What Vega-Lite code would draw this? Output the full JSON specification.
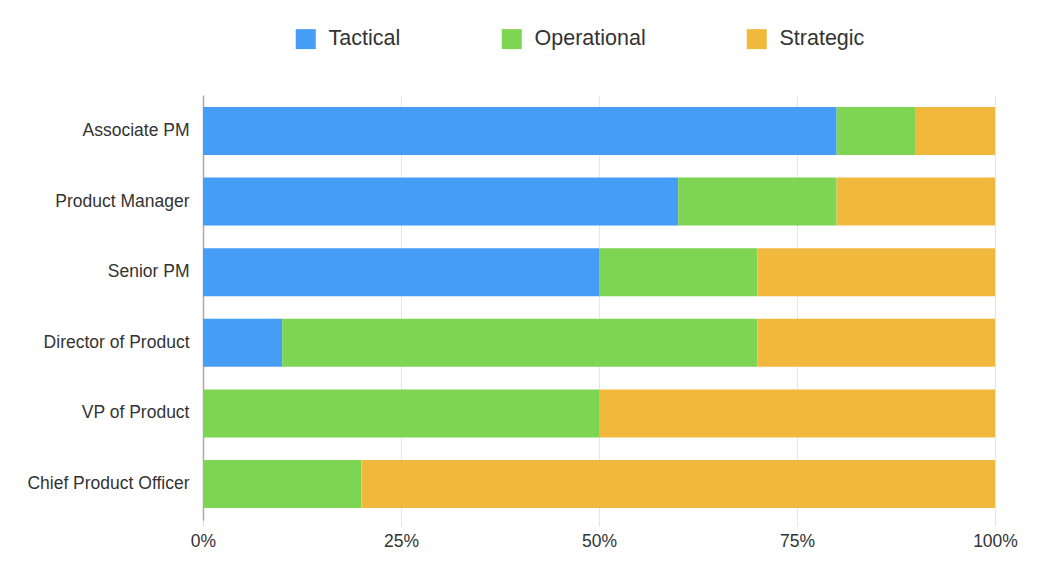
{
  "$schema": "https://vega.github.io/schema/vega-lite/v6.json",
  "width": 792,
  "height": 425,
  "autosize": {"type": "none"},
  "padding": {"left": 203, "top": 95, "right": 55, "bottom": 62},
  "background": "white",
  "config": {
    "font": "Liberation Sans",
    "view": {"stroke": null}
  },
  "data": {
    "values": [
      {"role": "Associate PM", "type": "Tactical", "k": 1, "share": 0.80},
      {"role": "Associate PM", "type": "Operational", "k": 2, "share": 0.10},
      {"role": "Associate PM", "type": "Strategic", "k": 3, "share": 0.10},
      {"role": "Product Manager", "type": "Tactical", "k": 1, "share": 0.60},
      {"role": "Product Manager", "type": "Operational", "k": 2, "share": 0.20},
      {"role": "Product Manager", "type": "Strategic", "k": 3, "share": 0.20},
      {"role": "Senior PM", "type": "Tactical", "k": 1, "share": 0.50},
      {"role": "Senior PM", "type": "Operational", "k": 2, "share": 0.20},
      {"role": "Senior PM", "type": "Strategic", "k": 3, "share": 0.30},
      {"role": "Director of Product", "type": "Tactical", "k": 1, "share": 0.10},
      {"role": "Director of Product", "type": "Operational", "k": 2, "share": 0.60},
      {"role": "Director of Product", "type": "Strategic", "k": 3, "share": 0.30},
      {"role": "VP of Product", "type": "Tactical", "k": 1, "share": 0.0},
      {"role": "VP of Product", "type": "Operational", "k": 2, "share": 0.50},
      {"role": "VP of Product", "type": "Strategic", "k": 3, "share": 0.50},
      {"role": "Chief Product Officer", "type": "Tactical", "k": 1, "share": 0.0},
      {"role": "Chief Product Officer", "type": "Operational", "k": 2, "share": 0.20},
      {"role": "Chief Product Officer", "type": "Strategic", "k": 3, "share": 0.80}
    ]
  },
  "mark": {"type": "bar"},
  "encoding": {
    "y": {
      "field": "role",
      "type": "nominal",
      "sort": ["Associate PM", "Product Manager", "Senior PM", "Director of Product", "VP of Product", "Chief Product Officer"],
      "scale": {"paddingInner": 0.32, "paddingOuter": 0.17},
      "axis": {
        "title": null,
        "ticks": false,
        "domain": true,
        "domainColor": "#aaaaaa",
        "domainWidth": 1.5,
        "labelFontSize": 17.5,
        "labelColor": "#333333",
        "labelPadding": 14
      }
    },
    "x": {
      "field": "share",
      "type": "quantitative",
      "stack": "zero",
      "scale": {"domain": [0, 1], "nice": false},
      "axis": {
        "title": null,
        "format": "~%",
        "values": [0, 0.25, 0.5, 0.75, 1],
        "domain": false,
        "ticks": true,
        "tickColor": "#e2e2e2",
        "tickSize": 6,
        "grid": true,
        "gridColor": "#e6e6e6",
        "gridWidth": 1,
        "labelFlush": false,
        "labelFontSize": 17.5,
        "labelColor": "#333333",
        "labelPadding": 6
      }
    },
    "color": {
      "field": "type",
      "type": "nominal",
      "scale": {
        "domain": ["Tactical", "Operational", "Strategic"],
        "range": ["#459df5", "#7dd553", "#f0b93d"]
      },
      "legend": {
        "title": null,
        "orient": "none",
        "direction": "horizontal",
        "legendX": 92,
        "legendY": -67,
        "symbolType": "square",
        "symbolSize": 400,
        "symbolStrokeWidth": 0,
        "labelFontSize": 21.5,
        "labelColor": "#333333",
        "labelOffset": 12,
        "columnPadding": 100
      }
    },
    "order": {"field": "k", "type": "quantitative"}
  }
}
